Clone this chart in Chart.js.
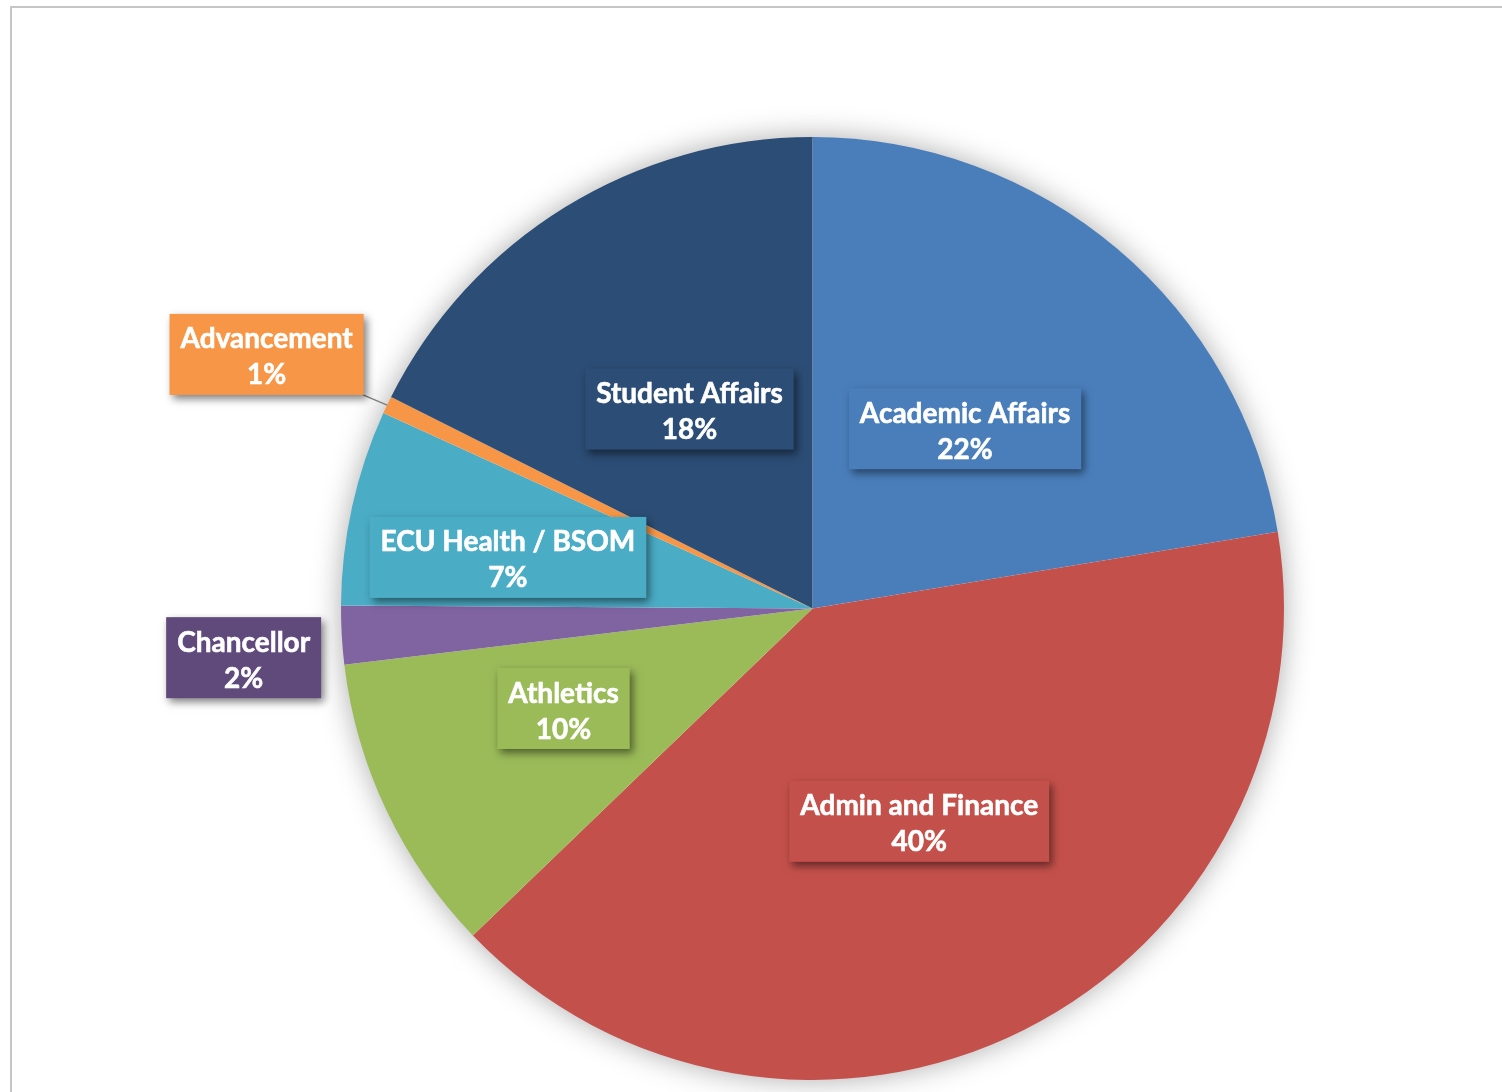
<!DOCTYPE html>
<html>
<head>
<meta charset="utf-8">
<script src="https://cdn.jsdelivr.net/npm/chart.js@4"></script>
<style>
  html, body { margin: 0; padding: 0; background: #fff; }
  #wrap { position: relative; width: 1502px; height: 1092px; overflow: hidden; }
  #frame {
    position: absolute; left: 10px; top: 6px; right: -10px; bottom: -10px;
    border-top: 2px solid #c6c6c6; border-left: 2px solid #c6c6c6;
  }
  #budgetChart { position: absolute; left: 0; top: 0; }
</style>
</head>
<body>
<div id="wrap">
  <div id="frame"></div>
  <canvas id="budgetChart" width="1502" height="1092"></canvas>
</div>
<script>
// Division shares (percent of total), clockwise from 12 o'clock
const divisions = ["Academic Affairs", "Admin and Finance", "Athletics", "Chancellor", "ECU Health / BSOM", "Advancement", "Student Affairs"];
const shares = [22.4, 40.4, 10.3, 2.0, 6.7, 0.6, 17.6];
const sliceColors = ["#4a7ebb", "#c4504b", "#9bbb59", "#8064a2", "#4bacc6", "#f79646", "#2c4d75"];
const boxColors = ["#4a7ebb", "#c4504b", "#9bbb59", "#604a7b", "#4bacc6", "#f79646", "#2c4d75"];

// label placement: distance from centre (fraction of radius) and a small angle nudge (deg)
const labelRadius = [0.5, 0.505, 0.569, 1.211, 0.655, 1.277, 0.497];
const labelNudge = [0, 0, 3.5, -1.7, -2.9, -0.6, 0];
const leaderLine = [false, false, false, false, false, true, false];

const total = shares.reduce((a, b) => a + b, 0);

// soft shadow behind the pie
const pieShadow = {
  id: "pieShadow",
  beforeDatasetsDraw(chart) {
    const arc = chart.getDatasetMeta(0).data[0];
    if (!arc) return;
    const ctx = chart.ctx;
    ctx.save();
    ctx.shadowColor = "rgba(0,0,0,0.35)";
    ctx.shadowBlur = 30;
    ctx.fillStyle = "#fff";
    ctx.beginPath();
    ctx.arc(arc.x, arc.y, arc.outerRadius - 1, 0, Math.PI * 2);
    ctx.fill();
    ctx.restore();
  },
};

// Excel style boxed data labels
const boxLabels = {
  id: "boxLabels",
  afterDatasetsDraw(chart) {
    const ctx = chart.ctx;
    const meta = chart.getDatasetMeta(0);
    ctx.save();
    ctx.font = "bold 28px Lato";
    ctx.textAlign = "center";
    ctx.textBaseline = "middle";
    meta.data.forEach((arc, i) => {
      const mid = (arc.startAngle + arc.endAngle) / 2 + (labelNudge[i] * Math.PI) / 180;
      const r = arc.outerRadius * labelRadius[i];
      const cx = arc.x + Math.cos(mid) * r;
      const cy = arc.y + Math.sin(mid) * r;
      const line1 = divisions[i];
      const line2 = Math.round((shares[i] / total) * 100) + "%";
      const w = Math.max(ctx.measureText(line1).width, ctx.measureText(line2).width) + 22;
      const h = 81;
      const x0 = cx - w / 2, y0 = cy - h / 2;

      if (leaderLine[i]) {
        const am = (arc.startAngle + arc.endAngle) / 2;
        const ex = arc.x + Math.cos(am) * arc.outerRadius;
        const ey = arc.y + Math.sin(am) * arc.outerRadius;
        // start the line where it leaves the box
        const dx = ex - cx, dy = ey - cy;
        const t = Math.min(Math.abs((w / 2) / dx), Math.abs((h / 2) / dy));
        ctx.strokeStyle = "#7f7f7f";
        ctx.lineWidth = 1.5;
        ctx.beginPath();
        ctx.moveTo(cx + dx * t, cy + dy * t);
        ctx.lineTo(ex, ey);
        ctx.stroke();
      }

      ctx.save();
      ctx.shadowColor = "rgba(0,0,0,0.5)";
      ctx.shadowBlur = 8;
      ctx.shadowOffsetX = 3;
      ctx.shadowOffsetY = 4;
      ctx.fillStyle = boxColors[i];
      ctx.fillRect(x0, y0, w, h);
      ctx.restore();

      ctx.fillStyle = "#fff";
      ctx.strokeStyle = "#fff";
      ctx.lineWidth = 0.6;
      ctx.fillText(line1, cx, cy - 15);
      ctx.strokeText(line1, cx, cy - 15);
      ctx.fillText(line2, cx, cy + 21);
      ctx.strokeText(line2, cx, cy + 21);
    });
    ctx.restore();
  },
};

new Chart(document.getElementById("budgetChart"), {
  type: "pie",
  data: {
    labels: divisions,
    datasets: [
      {
        data: shares,
        backgroundColor: sliceColors,
        borderWidth: 0,
      },
    ],
  },
  options: {
    responsive: false,
    devicePixelRatio: 1,
    animation: false,
    layout: { padding: { left: 341, right: 218, top: 137, bottom: 12 } },
    plugins: {
      legend: { display: false },
      tooltip: { enabled: false },
    },
  },
  plugins: [pieShadow, boxLabels],
});
</script>
</body>
</html>
